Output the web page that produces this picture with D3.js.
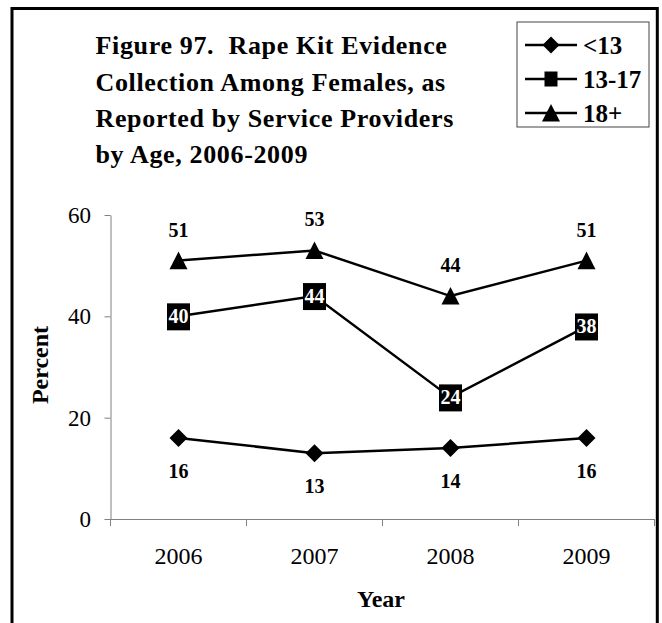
<!DOCTYPE html>
<html><head><meta charset="utf-8">
<script src="https://cdn.jsdelivr.net/npm/d3@7"></script>
<style>body{margin:0;background:#fff}svg{display:block}</style>
</head><body>
<svg id="chart" width="662" height="623"></svg>
<script>
const years = ["2006","2007","2008","2009"];
const seriesNames = ["<13","13-17","18+"];
const under13 = [16,13,14,16];
const age13to17 = [40,44,24,38];
const age18plus = [51,53,44,51];
const yTicks = [0,20,40,60];
const titleLines = ["Figure 97.  Rape Kit Evidence","Collection Among Females, as","Reported by Service Providers","by Age, 2006-2009"];

const svg = d3.select("#chart");
const FONT = "'Liberation Serif','Times New Roman',serif";
const axisColor = "#808080";

// outer border
svg.append("rect").attr("x",12).attr("y",8.5).attr("width",645.3).attr("height",700)
  .attr("fill","none").attr("stroke","#000").attr("stroke-width",3);

// title
const title = svg.append("text").attr("font-family",FONT).attr("font-weight","bold")
  .attr("font-size",26).attr("fill","#000").attr("letter-spacing","0.65px")
  .style("white-space","pre");
titleLines.forEach((t,i)=>{
  title.append("tspan").attr("x",95.5).attr("y",54.3+i*36.3).text(t);
});

const x = d3.scaleBand().domain(years).range([110.5,654.5]).padding(0);
const y = d3.scaleLinear().domain([0,60]).range([519,215]);
const cx = d => x(d)+x.bandwidth()/2;

// y axis
const yAxis = svg.append("g").attr("transform","translate(110.5,0)")
  .call(d3.axisLeft(y).tickValues(yTicks).tickSize(6).tickSizeOuter(0).tickPadding(13.5).tickFormat(d3.format("d")));
yAxis.select(".domain").attr("stroke",axisColor);
yAxis.selectAll(".tick line").attr("stroke",axisColor);
yAxis.selectAll(".tick text").attr("font-family",FONT).attr("font-size",23).attr("fill","#000").attr("dy","0.32em");

// x axis
const xg = svg.append("g");
xg.append("line").attr("x1",x.range()[0]).attr("x2",x.range()[1]).attr("y1",y(0)+0.5).attr("y2",y(0)+0.5)
  .attr("stroke",axisColor);
const edges = years.map(d=>x(d)).concat([x.range()[1]]);
xg.selectAll("line.tk").data(edges).enter().append("line").attr("class","tk")
  .attr("x1",d=>d).attr("x2",d=>d).attr("y1",y(0)).attr("y2",y(0)+7).attr("stroke",axisColor);
xg.selectAll("text").data(years).enter().append("text")
  .attr("x",d=>cx(d)).attr("y",564).attr("text-anchor","middle")
  .attr("font-family",FONT).attr("font-size",24).text(d=>d);

// axis titles
svg.append("text").attr("x",381).attr("y",607).attr("text-anchor","middle")
  .attr("font-family",FONT).attr("font-size",24).attr("font-weight","bold").text("Year");
svg.append("text").attr("transform","translate(48,365) rotate(-90)").attr("text-anchor","middle")
  .attr("font-family",FONT).attr("font-size",24).attr("font-weight","bold").text("Percent");

// shapes
const diamond = s => `M0,${-s}L${s},0L0,${s}L${-s},0Z`;
const triangle = s => `M0,${-s}L${s},${s*0.95}L${-s},${s*0.95}Z`;

const line = d3.line().x((d,i)=>cx(years[i])).y(d=>y(d));
[under13, age13to17, age18plus].forEach(arr=>{
  svg.append("path").datum(arr).attr("d",line).attr("fill","none").attr("stroke","#000").attr("stroke-width",2.5);
});

// <13 diamonds + labels below
svg.selectAll("path.dm").data(under13).enter().append("path").attr("class","dm")
  .attr("transform",(d,i)=>`translate(${cx(years[i])},${y(d)})`).attr("d",diamond(9)).attr("fill","#000");
svg.selectAll("text.l1").data(under13).enter().append("text").attr("class","l1")
  .attr("x",(d,i)=>cx(years[i])).attr("y",d=>y(d)+40).attr("text-anchor","middle")
  .attr("font-family",FONT).attr("font-weight","bold").attr("font-size",20).text(d=>d);

// 18+ triangles + labels above
svg.selectAll("path.tr").data(age18plus).enter().append("path").attr("class","tr")
  .attr("transform",(d,i)=>`translate(${cx(years[i])},${y(d)})`).attr("d",triangle(9)).attr("fill","#000");
svg.selectAll("text.l3").data(age18plus).enter().append("text").attr("class","l3")
  .attr("x",(d,i)=>cx(years[i])).attr("y",d=>y(d)-24).attr("text-anchor","middle")
  .attr("font-family",FONT).attr("font-weight","bold").attr("font-size",20).text(d=>d);

// 13-17 squares with labels inside
const sq = svg.selectAll("g.sq").data(age13to17).enter().append("g").attr("class","sq")
  .attr("transform",(d,i)=>`translate(${cx(years[i])},${y(d)})`);
sq.append("rect").attr("x",-11.5).attr("y",-13).attr("width",23).attr("height",27).attr("fill","#000");
sq.append("text").attr("x",0).attr("y",7).attr("text-anchor","middle").attr("fill","#fff")
  .attr("font-family",FONT).attr("font-weight","bold").attr("font-size",20).text(d=>d);

// legend
const lg = svg.append("g");
lg.append("rect").attr("x",517).attr("y",22).attr("width",132).attr("height",105)
  .attr("fill","#fff").attr("stroke","#444").attr("stroke-width",1);
const ly = [45,79,113];
seriesNames.forEach((n,i)=>{
  const g = lg.append("g").attr("transform",`translate(0,${ly[i]})`);
  g.append("line").attr("x1",525).attr("x2",577).attr("y1",0).attr("y2",0).attr("stroke","#000").attr("stroke-width",2.5);
  const m = g.append("g").attr("transform","translate(551,0)");
  if(i===0) m.append("path").attr("d",diamond(8.5)).attr("fill","#000");
  else if(i===1) m.append("rect").attr("x",-6.5).attr("y",-7.5).attr("width",13).attr("height",15).attr("fill","#000");
  else m.append("path").attr("d",triangle(9)).attr("fill","#000");
  g.append("text").attr("x",583).attr("y",8.5).attr("font-family",FONT).attr("font-weight","bold")
    .attr("font-size",25).text(n);
});
</script>
</body></html>
